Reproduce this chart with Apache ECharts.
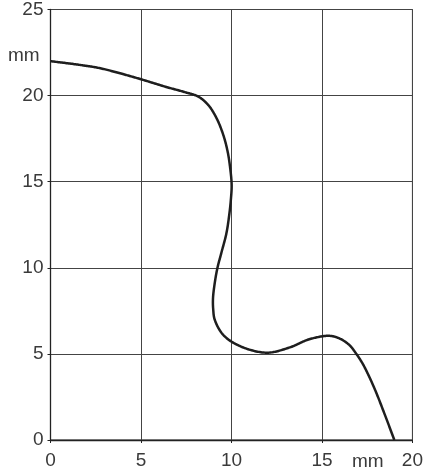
<!DOCTYPE html>
<html>
<head>
<meta charset="utf-8">
<script src="https://cdn.jsdelivr.net/npm/echarts@6/dist/echarts.min.js"></script>
<style>html,body{margin:0;padding:0;background:#fff}#c{width:426px;height:472px}</style>
</head>
<body>
<div id="c"></div>
<script>
// Data (x in mm, y in mm)
const curveX = [0, 1.5, 2.7, 4.0, 5.0, 6.4, 7.43, 8.17, 8.72, 9.18, 9.55, 9.79, 9.93, 10.01, 9.97, 9.88, 9.72, 9.45, 9.22, 9.06, 8.98, 8.99, 9.08, 9.55, 10.45, 11.94, 13.23, 14.3, 15.4, 15.96, 16.51, 16.88, 17.24, 17.61, 17.98, 18.5, 19.0];
const curveY = [22.0, 21.8, 21.6, 21.25, 20.95, 20.5, 20.2, 19.94, 19.45, 18.68, 17.71, 16.74, 15.78, 14.81, 14.0, 13.1, 12.0, 10.9, 9.97, 9.0, 8.23, 7.6, 6.97, 6.1, 5.46, 5.07, 5.38, 5.85, 6.05, 5.9, 5.52, 5.03, 4.45, 3.68, 2.8, 1.4, 0.0];
const xTicks = [0, 5, 10, 15, 20];
const yTicks = [0, 5, 10, 15, 20, 25];
const unitLabel = 'mm';

function catmull(p0, p1, p2, p3, u) {
  const d = (a, b) => Math.pow(Math.hypot(b[0] - a[0], b[1] - a[1]), 0.5) || 1e-6;
  const t0 = 0, t1 = t0 + d(p0, p1), t2 = t1 + d(p1, p2), t3 = t2 + d(p2, p3);
  const t = t1 + (t2 - t1) * u;
  const mix = (a, b, ta, tb) => [
    ((tb - t) * a[0] + (t - ta) * b[0]) / (tb - ta),
    ((tb - t) * a[1] + (t - ta) * b[1]) / (tb - ta)
  ];
  const A1 = mix(p0, p1, t0, t1), A2 = mix(p1, p2, t1, t2), A3 = mix(p2, p3, t2, t3);
  const B1 = mix(A1, A2, t0, t2), B2 = mix(A2, A3, t1, t3);
  return mix(B1, B2, t1, t2);
}

const chart = echarts.init(document.getElementById('c'));
const font = 'Liberation Sans, Arial, sans-serif';
chart.setOption({
  animation: false,
  backgroundColor: '#fff',
  grid: { left: 50.5, right: 13, top: 9, bottom: 32, show: true, borderColor: '#222', borderWidth: 1 },
  xAxis: {
    type: 'value', min: xTicks[0], max: xTicks[xTicks.length - 1], interval: 5,
    axisLine: { show: true, onZero: false, lineStyle: { color: '#222', width: 1.3 } },
    axisTick: { show: true, length: 3, lineStyle: { color: '#222' } },
    axisLabel: { color: '#3a3a3a', fontSize: 19, fontFamily: font, margin: 11 },
    splitLine: { show: true, lineStyle: { color: '#444', width: 1 } }
  },
  yAxis: {
    type: 'value', min: yTicks[0], max: yTicks[yTicks.length - 1], interval: 5,
    axisLine: { show: true, onZero: false, lineStyle: { color: '#222', width: 1.3 } },
    axisTick: { show: true, length: 3, lineStyle: { color: '#222' } },
    axisLabel: { color: '#3a3a3a', fontSize: 19, fontFamily: font, margin: 7 },
    splitLine: { show: true, lineStyle: { color: '#444', width: 1 } }
  },
  graphic: [
    { type: 'text', left: 8, top: 46, style: { text: unitLabel, fill: '#3a3a3a', font: '19px ' + font } },
    { type: 'text', left: 352, top: 452, style: { text: unitLabel, fill: '#3a3a3a', font: '19px ' + font } }
  ],
  series: [{
    type: 'custom',
    coordinateSystem: 'cartesian2d',
    data: [[curveX[0], curveY[0]]],
    clip: false,
    renderItem: function (params, api) {
      const pts = curveX.map((x, i) => api.coord([x, curveY[i]]));
      const n = pts.length;
      const out = [];
      for (let i = 0; i < n - 1; i++) {
        const p1 = pts[i], p2 = pts[i + 1];
        const p0 = i > 0 ? pts[i - 1] : [2 * p1[0] - p2[0], 2 * p1[1] - p2[1]];
        const p3 = i < n - 2 ? pts[i + 2] : [2 * p2[0] - p1[0], 2 * p2[1] - p1[1]];
        const steps = 24;
        for (let s = 0; s < steps; s++) out.push(catmull(p0, p1, p2, p3, s / steps));
      }
      out.push(pts[n - 1]);
      return {
        type: 'polyline',
        shape: { points: out },
        style: { stroke: '#1e1e1e', lineWidth: 2.5, fill: null, lineJoin: 'round' }
      };
    }
  }]
});
</script>
</body>
</html>
